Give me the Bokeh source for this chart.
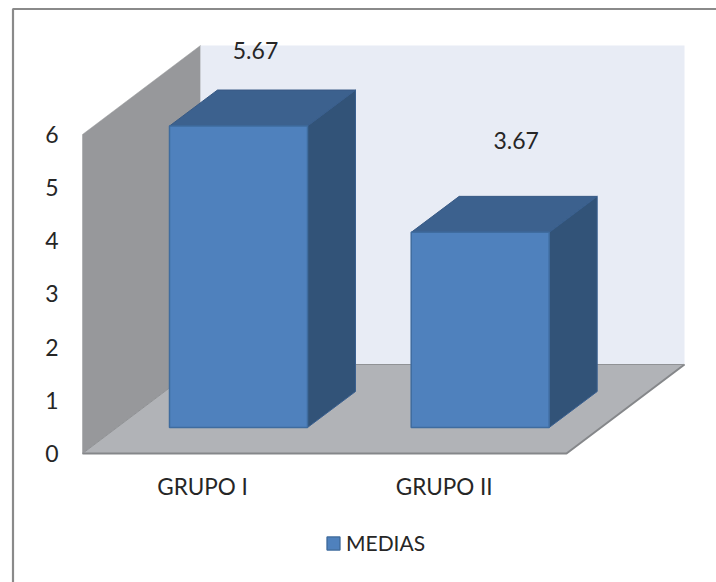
from bokeh.embed import file_html
from bokeh.resources import INLINE
from bokeh.core.properties import value
from bokeh.models import FixedTicker, Legend, LegendItem, Range1d
from bokeh.plotting import figure

categories = ["GRUPO I", "GRUPO II"]
medias = [5.67, 3.67]
y_ticks = [0, 1, 2, 3, 4, 5, 6]
series_name = "MEDIAS"

FONT = "Lato"
TEXT = "#262626"

# Layout: pixels per unit on both axes, then the oblique depth of the 3D box.
W, H = 716, 582
LEFT, Y0 = 82, 453
PX_Y = 53.17
PX_X = 241.7
FIRST_BAR_PX = 238

y_start = (Y0 - H) / PX_Y
y_end = Y0 / PX_Y
x_start = -FIRST_BAR_PX / PX_X
x_end = (W - FIRST_BAR_PX) / PX_X

wall_dx = 118 / PX_X
wall_dy = 89 / PX_Y
wall_top = 6.0
floor_w = 484 / PX_X

bar_half = 69 / PX_X
bar_dx = 48 / PX_X
bar_dy = 36 / PX_Y
bar_base = 26 / PX_Y

p = figure(
    width=W, height=H, output_backend="svg", toolbar_location=None,
    x_range=Range1d(x_start, x_end), y_range=Range1d(y_start, y_end),
    min_border_left=0, min_border_right=0, min_border_top=0, min_border_bottom=0,
    background_fill_color="white", border_fill_color="white",
    outline_line_color=None,
)
p.grid.visible = False

# Outer chart border: only its top and left edges fall inside the page
x_left = (LEFT - FIRST_BAR_PX) / PX_X
border_x = x_start + 12.5 / PX_X
border_y = y_end - 8.5 / PX_Y
p.line([border_x, border_x, x_end], [y_start, border_y, border_y],
       line_color="#8a8a8a", line_width=2.2)

# Box walls and floor
p.patch([x_left, x_left + wall_dx, x_left + wall_dx, x_left],
        [wall_top, wall_top + wall_dy, wall_dy, 0],
        fill_color="#97989b", line_color="#97989b", line_width=0.5)
p.patch([x_left + wall_dx, x_left + wall_dx + floor_w, x_left + wall_dx + floor_w, x_left + wall_dx],
        [wall_dy, wall_dy, wall_top + wall_dy, wall_top + wall_dy],
        fill_color="#e8ecf5", line_color=None)
p.patch([x_left, x_left + wall_dx, x_left + wall_dx + floor_w, x_left + floor_w],
        [0, wall_dy, wall_dy, 0],
        fill_color="#b1b3b7", line_color=None)
p.line([x_left, x_left + floor_w, x_left + wall_dx + floor_w],
       [0, 0, wall_dy], line_color="#85878a", line_width=2)
p.line([x_left, x_left + wall_dx, x_left + wall_dx + floor_w],
       [0, wall_dy, wall_dy], line_color="#909295", line_width=1)

# Bars drawn as oblique boxes from the series values
idx = list(range(len(medias)))
lefts = [i - bar_half for i in idx]
rights = [i + bar_half for i in idx]
tops = [bar_base + v for v in medias]

p.patches(
    [[l, l + bar_dx, r + bar_dx, r] for l, r in zip(lefts, rights)],
    [[t, t + bar_dy, t + bar_dy, t] for t in tops],
    fill_color="#3c618e", line_color="#385a85", line_width=1,
)
p.patches(
    [[r, r + bar_dx, r + bar_dx, r] for r in rights],
    [[bar_base, bar_base + bar_dy, t + bar_dy, t] for t in tops],
    fill_color="#325378", line_color="#3a6090", line_width=1,
)
front = p.quad(left=lefts, right=rights, bottom=bar_base, top=tops,
               fill_color="#4f81bd", line_color="#3f6c9f", line_width=1.5)

# Value labels, floating above each box
label_dx = [17 / PX_X, 36 / PX_X]
label_dy = [76 / PX_Y, 92 / PX_Y]
p.text(
    x=[i + d for i, d in zip(idx, label_dx)],
    y=[t + d for t, d in zip(tops, label_dy)],
    text=[f"{v:.2f}" for v in medias],
    text_align="center", text_baseline="middle",
    text_font=value(FONT), text_font_size="23px", text_color=TEXT,
)

# Axes pinned to the front edges of the box
cat_shift = -36 / PX_X
cat_ticks = [i + cat_shift for i in idx]
xaxis = p.xaxis[0]
xaxis.fixed_location = 0
xaxis.ticker = FixedTicker(ticks=cat_ticks)
xaxis.major_label_overrides = {t: c for t, c in zip(cat_ticks, categories)}
xaxis.axis_line_color = None
xaxis.major_tick_line_color = None
xaxis.minor_tick_line_color = None
xaxis.major_label_standoff = 13
xaxis.major_label_text_font = FONT
xaxis.major_label_text_font_size = "22.5px"
xaxis.major_label_text_color = TEXT

yaxis = p.yaxis[0]
yaxis.fixed_location = x_left
yaxis.ticker = FixedTicker(ticks=y_ticks)
yaxis.axis_line_color = None
yaxis.major_tick_line_color = None
yaxis.minor_tick_line_color = None
yaxis.major_label_standoff = 18
yaxis.major_label_text_font = FONT
yaxis.major_label_text_font_size = "23px"
yaxis.major_label_text_color = TEXT

# Legend sits under the category labels
legend = Legend(
    items=[LegendItem(label=series_name, renderers=[front])],
    location=(325, 582 - 555), orientation="horizontal",
    background_fill_alpha=0, border_line_color=None,
    padding=0, margin=0, glyph_width=16, glyph_height=16, label_standoff=5,
    label_text_font=FONT, label_text_font_size="21px", label_text_color=TEXT,
)
p.add_layout(legend)

open("out.html", "w").write(file_html(p, INLINE))
